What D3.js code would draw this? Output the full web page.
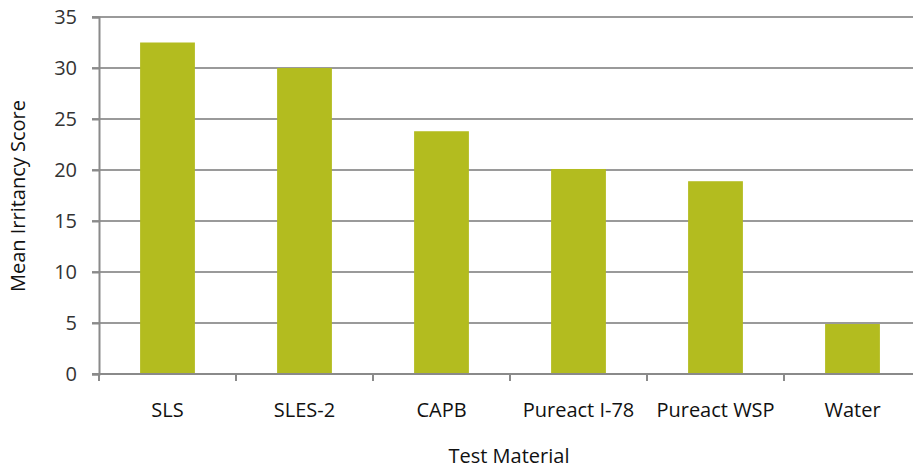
<!DOCTYPE html>
<html><head><meta charset="utf-8">
<script src="https://cdn.jsdelivr.net/npm/d3@7"></script>
<style>body{margin:0;background:#fff;} text{font-family:"Open Sans",sans-serif;}</style>
</head><body>
<svg id="c" width="913" height="470"></svg>
<script>
const categories = ["SLS","SLES-2","CAPB","Pureact I-78","Pureact WSP","Water"];
const values = [32.5, 30.0, 23.8, 20.1, 18.9, 4.9];
const yTicks = [0,5,10,15,20,25,30,35];

const svg = d3.select("#c");
const x = d3.scaleBand().domain(categories).range([99, 921]).paddingInner(0.6).paddingOuter(0.3);
const y = d3.scaleLinear().domain([0,35]).range([374, 17]);

// gridlines
svg.append("g").selectAll("line").data(yTicks.filter(d=>d>0)).join("line")
  .attr("x1", 92).attr("x2", 913).attr("y1", d=>y(d)).attr("y2", d=>y(d))
  .attr("stroke", "#9a9a9a").attr("stroke-width", 2);

// bars
svg.append("g").selectAll("rect").data(values).join("rect")
  .attr("x", (d,i)=>x(categories[i])).attr("width", x.bandwidth())
  .attr("y", d=>y(d)).attr("height", d=>y(0)-y(d))
  .attr("fill", "#b3bc1f");

// y axis
const ya = d3.axisLeft(y).tickValues(yTicks).tickSize(7).tickPadding(15);
const gy = svg.append("g").attr("transform","translate(99,0)").call(ya);
gy.select(".domain").attr("stroke","#8a8a8a").attr("stroke-width",2);
gy.selectAll(".tick line").attr("stroke","#8a8a8a").attr("stroke-width",2);
gy.selectAll(".tick text").attr("font-size",20).attr("fill","#333").attr("font-family","'Open Sans',sans-serif");

// x axis
const xa = d3.axisBottom(x).tickSize(0).tickPadding(29);
const gx = svg.append("g").attr("transform","translate(0,374)").call(xa);
gx.select(".domain").attr("stroke","#8a8a8a").attr("stroke-width",2).attr("d","M92,0H913");
gx.selectAll(".tick text").attr("font-size",20).attr("fill","#111").attr("font-family","'Open Sans',sans-serif");
// category boundary ticks
svg.append("g").selectAll("line").data(categories.map((c,i)=>i)).join("line")
  .attr("x1", i=>x(categories[i]) - (x.step()-x.bandwidth())/2)
  .attr("x2", i=>x(categories[i]) - (x.step()-x.bandwidth())/2)
  .attr("y1", 374).attr("y2", 381).attr("stroke","#8a8a8a").attr("stroke-width",2);

// axis titles
svg.append("text").attr("x", 509).attr("y", 463).attr("text-anchor","middle")
  .attr("font-size",20).attr("fill","#111").text("Test Material");
svg.append("text").attr("transform","translate(25,196) rotate(-90)").attr("text-anchor","middle")
  .attr("font-size",20).attr("fill","#111").text("Mean Irritancy Score");
</script>
</body></html>
